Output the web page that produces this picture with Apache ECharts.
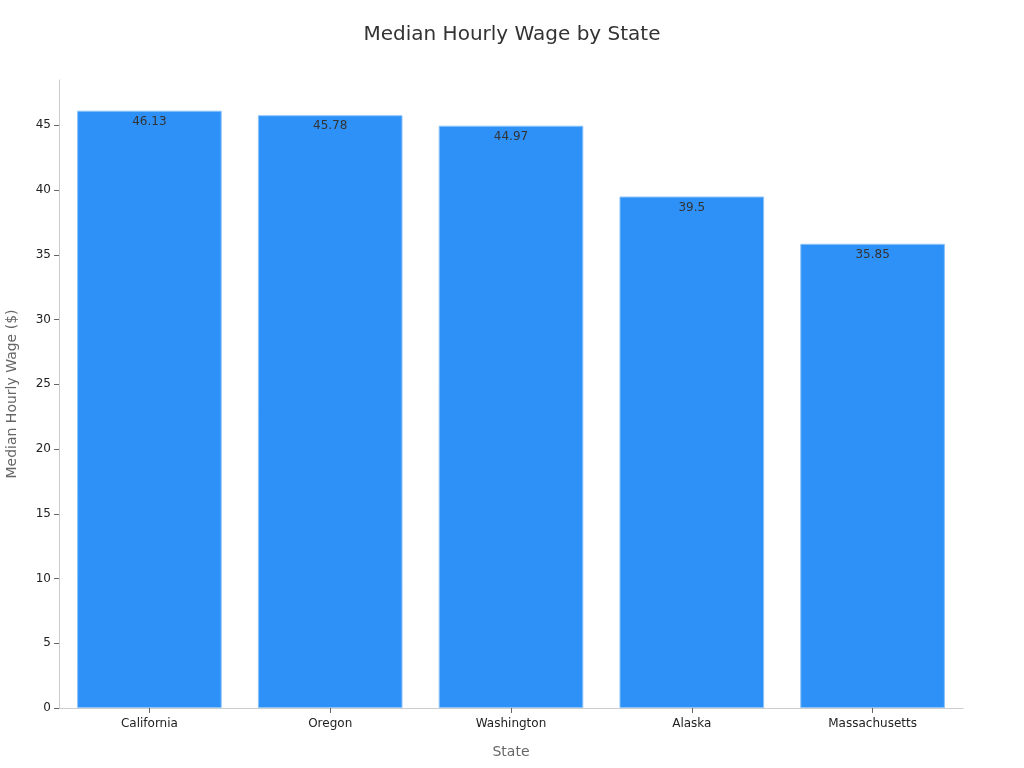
<!DOCTYPE html>
<html><head><meta charset="utf-8">
<script src="https://cdn.jsdelivr.net/npm/echarts@6/dist/echarts.min.js"></script>
<style>html,body{margin:0;padding:0;background:#fff}#c{width:1024px;height:768px}</style>
</head><body><div id="c"></div>
<script>
const states = ["California", "Oregon", "Washington", "Alaska", "Massachusetts"];
const wages = [46.13, 45.78, 44.97, 39.5, 35.85];
const chart = echarts.init(document.getElementById('c'));
chart.setOption({
  textStyle: {fontFamily: 'DejaVu Sans'},
  title: {text: 'Median Hourly Wage by State', left: 'center', top: 20,
    textStyle: {fontSize: 20, fontWeight: 'normal', color: '#333', fontFamily: 'DejaVu Sans'}},
  grid: {left: 59, right: 61, top: 80, bottom: 60, containLabel: false, outerBoundsMode: 'none'},
  xAxis: {type: 'category', data: states, name: 'State', nameLocation: 'middle', nameGap: 37,
    nameTextStyle: {color: '#666', fontSize: 14},
    axisLine: {lineStyle: {color: '#ccc'}},
    axisTick: {show: true, inside: false, alignWithLabel: true, length: 5, lineStyle: {color: '#666'}},
    axisLabel: {color: '#222', fontSize: 12, margin: 10}},
  yAxis: {type: 'value', min: 0, max: 48.5, interval: 5, name: 'Median Hourly Wage ($)',
    nameLocation: 'middle', nameGap: 40, nameTextStyle: {color: '#666', fontSize: 14},
    axisLine: {show: true, lineStyle: {color: '#ccc'}},
    axisTick: {show: true, inside: false, length: 5, lineStyle: {color: '#666'}},
    axisLabel: {color: '#222', fontSize: 12, showMaxLabel: false, margin: 8},
    splitLine: {show: false}},
  series: [{type: 'bar', data: wages, barWidth: '80%',
    itemStyle: {color: '#2E91F7', borderColor: '#8CC4FA', borderWidth: 1},
    label: {show: true, position: 'insideTop', distance: 5, color: '#333', fontSize: 12}}]
});
</script></body></html>
